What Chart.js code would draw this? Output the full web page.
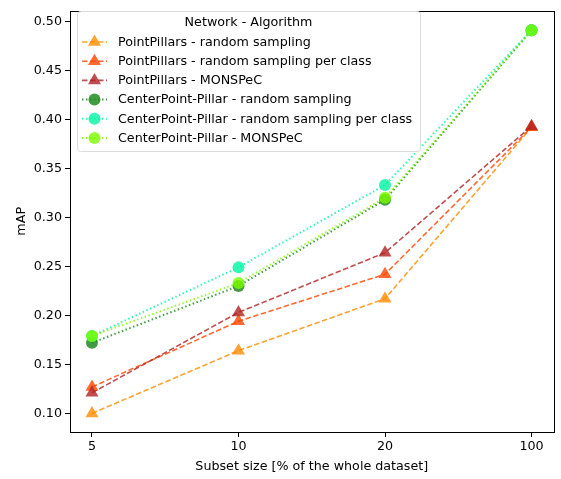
<!DOCTYPE html>
<html>
<head>
<meta charset="utf-8">
<script src="https://cdn.jsdelivr.net/npm/chart.js@4/dist/chart.umd.min.js"></script>
<style>
  html, body { margin: 0; padding: 0; background: #fff; }
  #wrap { width: 561px; height: 479px; }
</style>
</head>
<body>
<div id="wrap"><canvas id="mapChart" width="561" height="479"></canvas></div>
<script>
// subset sizes (categorical x positions 0..3)
const subsetLabels = ['5', '10', '20', '100'];
const yTicks = [0.10, 0.15, 0.20, 0.25, 0.30, 0.35, 0.40, 0.45, 0.50];

const seriesNames = [
    'PointPillars - random sampling',
    'PointPillars - random sampling per class',
    'PointPillars - MONSPeC',
    'CenterPoint-Pillar - random sampling',
    'CenterPoint-Pillar - random sampling per class',
    'CenterPoint-Pillar - MONSPeC'
];

const ppRandom = [0.100, 0.164, 0.217, 0.392];
const ppRandomPerClass = [0.127, 0.194, 0.242, 0.392];
const ppMonspec = [0.121, 0.203, 0.264, 0.393];
const cpRandom = [0.172, 0.230, 0.318, 0.491];
const cpRandomPerClass = [0.179, 0.249, 0.333, 0.491];
const cpMonspec = [0.179, 0.233, 0.320, 0.491];

const seriesValues = [ppRandom, ppRandomPerClass, ppMonspec, cpRandom, cpRandomPerClass, cpMonspec];
const seriesColors = [
    'rgba(255,140,0,0.8)',
    'rgba(255,69,0,0.8)',
    'rgba(178,34,34,0.8)',
    'rgba(34,139,34,0.85)',
    'rgba(0,245,160,0.8)',
    'rgba(124,252,0,0.8)'
];

const FONT = 'DejaVu Sans';
const FS = 12.7;

function isPP(i) { return i < 3; }

const datasets = seriesValues.map((vals, i) => ({
    label: seriesNames[i],
    data: vals.map((v, k) => ({ x: k, y: v })),
    borderColor: seriesColors[i],
    backgroundColor: seriesColors[i],
    borderWidth: isPP(i) ? 1.6 : 2,
    borderDash: isPP(i) ? [5.5, 2.5] : [1.5, 2.5],
    pointStyle: isPP(i) ? 'triangle' : 'circle',
    pointRadius: isPP(i) ? 7.5 : 6,
    pointBorderWidth: 0,
    pointBackgroundColor: seriesColors[i],
    tension: 0,
    fill: false,
    order: 6 - i
}));

// axes frame
const framePlugin = {
    id: 'frame',
    afterDatasetsDraw(chart) {
        const a = chart.chartArea;
        const c = chart.ctx;
        c.save();
        c.strokeStyle = '#000';
        c.lineWidth = 1;
        c.strokeRect(Math.round(a.left) + 0.5, Math.round(a.top) + 0.5,
            Math.round(a.right - a.left), Math.round(a.bottom - a.top));
        c.restore();
    }
};

// matplotlib-like legend with line + marker handles
const legendPlugin = {
    id: 'mplLegend',
    afterDraw(chart) {
        const c = chart.ctx;
        const x0 = 77, y0 = 11, w = 343, h = 140;
        c.save();
        c.beginPath();
        c.roundRect(x0 + 0.5, y0 + 0.5, w, h, 3);
        c.fillStyle = 'rgba(255,255,255,0.8)';
        c.fill();
        c.strokeStyle = '#dcdcdc';
        c.lineWidth = 1;
        c.stroke();

        c.fillStyle = '#000';
        c.font = FS + 'px "' + FONT + '"';
        c.textBaseline = 'middle';
        c.textAlign = 'center';
        c.fillText('Network - Algorithm', x0 + w / 2, 22.5);

        c.textAlign = 'left';
        chart.data.datasets.forEach((ds, i) => {
            const y = 42 + i * 19.2;
            c.beginPath();
            c.setLineDash(ds.borderDash);
            c.lineWidth = ds.borderWidth;
            c.strokeStyle = ds.borderColor;
            c.moveTo(82, y);
            c.lineTo(107, y);
            c.stroke();
            c.setLineDash([]);
            c.fillStyle = ds.backgroundColor;
            c.strokeStyle = 'rgba(0,0,0,0)';
            Chart.helpers.drawPoint(c, {
                pointStyle: ds.pointStyle,
                radius: ds.pointRadius,
                rotation: 0,
                borderWidth: 0
            }, 94.5, y);
            c.fillStyle = '#000';
            c.fillText(ds.label, 118, y + 0.5);
        });
        c.restore();
    }
};

new Chart(document.getElementById('mapChart'), {
    type: 'line',
    data: { datasets: datasets },
    options: {
        responsive: false,
        animation: false,
        layout: { padding: { top: 4, right: 7, left: 0, bottom: 0 } },
        plugins: {
            legend: { display: false },
            tooltip: { enabled: false }
        },
        scales: {
            x: {
                type: 'linear',
                min: -0.15,
                max: 3.15,
                afterBuildTicks: (scale) => {
                    scale.ticks = subsetLabels.map((_, k) => ({ value: k }));
                },
                afterFit: (scale) => { scale.height = 47; },
                ticks: {
                    color: '#000',
                    font: { family: FONT, size: FS },
                    padding: 2,
                    maxRotation: 0,
                    callback: (v) => subsetLabels[v]
                },
                grid: {
                    drawOnChartArea: false,
                    drawTicks: true,
                    tickLength: 5,
                    color: '#000'
                },
                border: { display: false },
                title: {
                    display: true,
                    text: 'Subset size [% of the whole dataset]',
                    color: '#000',
                    font: { family: FONT, size: FS },
                    padding: { top: 1, bottom: 5 }
                }
            },
            y: {
                min: 0.081,
                max: 0.511,
                afterBuildTicks: (scale) => {
                    scale.ticks = yTicks.map(v => ({ value: v }));
                },
                afterFit: (scale) => { scale.width = 70; },
                ticks: {
                    color: '#000',
                    font: { family: FONT, size: FS },
                    padding: 3,
                    callback: (v) => v.toFixed(2)
                },
                grid: {
                    drawOnChartArea: false,
                    drawTicks: true,
                    tickLength: 5,
                    color: '#000'
                },
                border: { display: false },
                title: {
                    display: true,
                    text: 'mAP',
                    color: '#000',
                    font: { family: FONT, size: FS },
                    padding: { top: 14, bottom: 0 }
                }
            }
        }
    },
    plugins: [framePlugin, legendPlugin]
});
</script>
</body>
</html>
